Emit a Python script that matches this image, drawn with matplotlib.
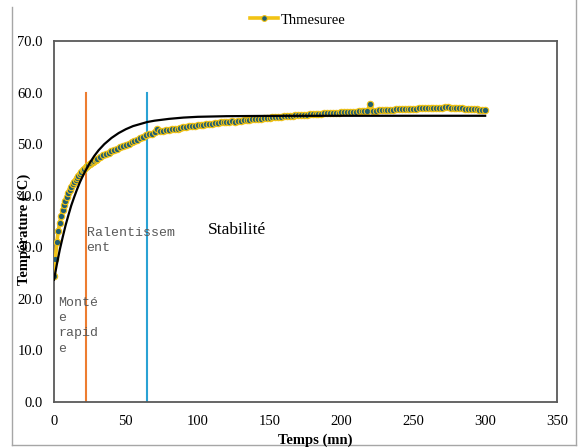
import matplotlib
matplotlib.use("Agg")
import matplotlib.pyplot as plt
from matplotlib.lines import Line2D

# ---- data ----
t_early = list(range(0, 31))
t_late = list(range(32, 301, 2))
temps_mesure_early = [24.5, 27.7, 31.0, 33.2, 34.8, 36.1, 37.2, 38.2, 39.0, 39.8,
                      40.5, 41.1, 41.7, 42.2, 42.7, 43.1, 43.5, 43.9, 44.3, 44.6,
                      44.9, 45.2, 45.5, 45.7, 46.0, 46.2, 46.4, 46.6, 46.8, 47.0,
                      47.2]
temps_mesure_late = [47.5, 47.8, 48.0, 48.3, 48.6, 48.9, 49.1, 49.4, 49.6, 49.9,
                     50.1, 50.4, 50.6, 50.9, 51.1, 51.4, 51.7, 51.9, 52.0, 52.3,
                     52.9, 52.5, 52.5, 52.7, 52.8, 52.9, 53.0, 53.0, 53.2, 53.3,
                     53.3, 53.5, 53.5, 53.6, 53.7, 53.7, 53.8, 53.9, 53.9, 54.0,
                     54.1, 54.1, 54.2, 54.2, 54.3, 54.3, 54.4, 54.3, 54.5, 54.5,
                     54.6, 54.7, 54.7, 54.8, 54.8, 54.9, 54.9, 55.0, 55.1, 55.1,
                     55.2, 55.2, 55.3, 55.3, 55.4, 55.4, 55.5, 55.5, 55.6, 55.6,
                     55.7, 55.6, 55.7, 55.8, 55.8, 55.9, 55.9, 55.9, 56.0, 56.0,
                     56.0, 56.1, 56.1, 56.1, 56.2, 56.2, 56.2, 56.3, 56.3, 56.3,
                     56.4, 56.4, 56.4, 56.5, 57.8, 56.5, 56.5, 56.6, 56.6, 56.6,
                     56.7, 56.7, 56.7, 56.8, 56.8, 56.8, 56.8, 56.9, 56.9, 56.9,
                     56.9, 57.0, 57.0, 57.0, 57.0, 57.1, 57.1, 57.1, 57.1, 57.1,
                     57.2, 57.2, 57.1, 57.1, 57.1, 57.0, 57.0, 56.9, 56.9, 56.8,
                     56.8, 56.8, 56.7, 56.7, 56.7]
t_mesure = t_early + t_late
th_mesuree = temps_mesure_early + temps_mesure_late

t_modele = [0, 2, 4, 6, 8, 10, 12, 14, 16, 18, 20, 22, 25, 28, 31, 35, 40, 45,
            50, 55, 60, 65, 70, 80, 90, 100, 120, 150, 200, 300]
th_modele = [23.7, 26.7, 29.5, 31.9, 34.2, 36.2, 38.1, 39.7, 41.2, 42.6, 43.8,
             44.9, 46.4, 47.7, 48.8, 50.0, 51.2, 52.15, 52.9, 53.5, 53.9, 54.3,
             54.55, 54.9, 55.15, 55.3, 55.42, 55.48, 55.5, 55.5]

t_phases = [22, 64.5]
phase_top = 60
phase_colors = ['#ED7D31', '#2AA2D4']

xticks = [0, 50, 100, 150, 200, 250, 300, 350]
yticks = [0, 10, 20, 30, 40, 50, 60, 70]

serif = ['Liberation Serif', 'DejaVu Serif']
mono = ['Liberation Mono', 'DejaVu Sans Mono']

fig = plt.figure(figsize=(5.8, 4.48), dpi=100)
ax = fig.add_axes([54/580, 1-402/448, (557-54)/580, (402-41)/448])

# outer chart border (left, bottom, right)
border = '#A6A6A6'
fig.add_artist(Line2D([12/580, 12/580], [1-445/448, 1-7/448], color=border, lw=1, transform=fig.transFigure))
fig.add_artist(Line2D([12/580, 576/580], [1-445/448, 1-445/448], color=border, lw=1, transform=fig.transFigure))
fig.add_artist(Line2D([576/580, 576/580], [1-445/448, 1.0], color=border, lw=1, transform=fig.transFigure))

gold = '#F2C314'
teal = '#225F70'
ln, = ax.plot(t_mesure, th_mesuree, color=gold, lw=2.6, marker='o', ms=4.6,
              mfc=teal, mec=gold, mew=0.8, label='Thmesuree', zorder=3)
ax.plot(t_modele, th_modele, color='black', lw=1.6, zorder=4)

for tp, c in zip(t_phases, phase_colors):
    ax.plot([tp, tp], [0, phase_top], color=c, lw=1.5, zorder=2)

ax.set_xlim(0, 350)
ax.set_ylim(0, 70)
ax.set_xticks(xticks)
ax.set_yticks(yticks)
ax.set_xticklabels([str(v) for v in xticks], family=serif, fontsize=10.5)
ax.set_yticklabels([f"{v:.1f}" for v in yticks], family=serif, fontsize=10.5)
ax.tick_params(length=0)
ax.tick_params(axis='x', pad=9)
ax.tick_params(axis='y', pad=8)
for s in ax.spines.values():
    s.set_color('#595959')
    s.set_linewidth(1.3)

ax.text(2.8, 14.8, "Monté\ne\nrapid\ne", family=mono, fontsize=9.5, color='#595959',
        ha='left', va='center', linespacing=1.38, zorder=5)
ax.text(22.7, 31.3, "Ralentissem\nent", family=mono, fontsize=9.5, color='#595959',
        ha='left', va='center', linespacing=1.25, zorder=5)
ax.text(107.2, 33.4, "Stabilité", family=serif, fontsize=12.5, color='black',
        ha='left', va='center', zorder=5)

fig.text(24/580, 1-229/448, "Température (°C)", family=serif, fontsize=10.5,
         fontweight='bold', rotation=90, ha='center', va='center')
fig.text(315/580, 1-440/448, "Temps (mn)", family=serif, fontsize=10.5,
         fontweight='bold', ha='center', va='center')

fig.legend(handles=[ln], labels=['Thmesuree'], loc='center',
           bbox_to_anchor=(298/580, 1-20/448), frameon=False,
           prop={'family': serif, 'size': 10.5}, handlelength=1.9,
           handletextpad=0.2, markerscale=0.9)

fig.savefig('out.png', dpi=100)
